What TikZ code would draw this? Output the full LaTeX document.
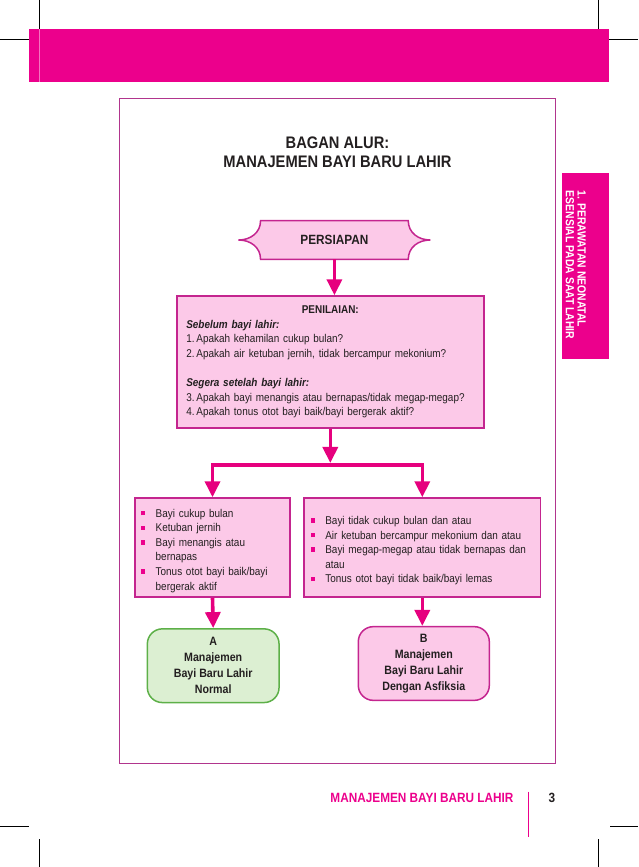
\documentclass[tikz,border=0pt]{standalone}
\usepackage{fontspec}
\setmainfont{Liberation Sans}[FakeStretch=0.88]
\usepackage{xcolor}
\usetikzlibrary{arrows.meta,backgrounds}

\definecolor{magband}{HTML}{EC008C}
\definecolor{arrowcol}{HTML}{E6007E}
\definecolor{boxline}{HTML}{C4258F}
\definecolor{frameline}{HTML}{B1358D}
\definecolor{pinkfill}{HTML}{FCC9E8}
\definecolor{greenfill}{HTML}{DCEFD2}
\definecolor{greenline}{HTML}{5DB048}
\definecolor{textcol}{HTML}{231F20}

\newcommand\bulletitem[1]{\par\noindent
  \makebox[14.7pt][l]{\textcolor{magband}{\rule[1.8pt]{4.4pt}{4.4pt}}}#1}
\newcommand\bulletcont[1]{\par\noindent\hspace*{14.7pt}#1}

\begin{document}
\begin{tikzpicture}[x=1pt,y=-1pt,
  bodytext/.style={font=\fontsize{11.3}{14.6}\selectfont,text=textcol},
  infobox/.style={bodytext,draw=boxline,fill=pinkfill,line width=1.5pt,
    align=left,inner ysep=0pt},
  endbox/.style={draw=boxline,fill=pinkfill,line width=1.5pt,rounded corners=15pt,
    minimum width=131pt,minimum height=73.7pt,align=center,text=textcol,
    font=\fontsize{12.1}{16}\selectfont\bfseries},
  flowarrow/.style={draw=arrowcol,line width=3.6pt,line join=miter,
    -{Triangle[width=15pt,length=16pt]}},
  cropmark/.style={draw=black,line width=0.8pt}]
  \useasboundingbox (0,0) rectangle (638,867);
  % crop marks and header band
  \draw[cropmark] (39.3,0) -- (39.3,29) (0,39) -- (29,39);
  \draw[cropmark] (598.3,0) -- (598.3,29) (609,39) -- (638,39);
  \draw[cropmark] (0,826.7) -- (28.5,826.7) (39.3,839) -- (39.3,867);
  \draw[cropmark] (610,826.7) -- (638,826.7) (598.3,839) -- (598.3,867);
  \fill[magband] (29,29) rectangle (609,82);
  \draw[magband!55!white,line width=0.6pt] (39.3,29) -- (39.3,82);
  % frame and side tab
  \draw[frameline,line width=1pt] (119.3,98.3) rectangle (555,763);
  \fill[magband] (561.7,172.7) rectangle (609,359);
  \node (tabtext) [rotate=-90,anchor=north west,inner sep=0pt,align=left,text=white,
    font=\fontsize{11.8}{11.7}\selectfont\bfseries] at (586,190.7)
    {1. PERAWATAN NEONATAL\\ESENSIAL PADA SAAT LAHIR};
  \node (judul) [align=center,text=textcol,font=\fontsize{16.7}{19}\selectfont\bfseries]
    at (337.5,152.5) {BAGAN ALUR:\\MANAJEMEN BAYI BARU LAHIR};

  \node (persiapan) [minimum width=147.3pt,minimum height=38.3pt,text=textcol,
    font=\fontsize{13.4}{16}\selectfont\bfseries] at (334.4,240) {PERSIAPAN};
  \begin{scope}[on background layer]
  \draw[draw=boxline,fill=pinkfill,line width=1.5pt]
    (persiapan.north west) -- (persiapan.north east)
    .. controls +(0,12) and +(-12,0) .. ([xshift=22pt]persiapan.east)
    .. controls +(-12,0) and +(0,-12) .. (persiapan.south east)
    -- (persiapan.south west)
    .. controls +(0,-12) and +(12,0) .. ([xshift=-22pt]persiapan.west)
    .. controls +(12,0) and +(0,12) .. cycle;
  \end{scope}

  \node (penilaian) [infobox,minimum width=307pt,minimum height=132pt,
    text width=288pt,inner xsep=9.5pt] at (330.3,362)
  {\makebox[\linewidth]{\textbf{PENILAIAN:}}\\
   \textbf{\textit{Sebelum bayi lahir:}}\\
   1.\,Apakah kehamilan cukup bulan?\\
   2.\,Apakah air ketuban jernih, tidak bercampur mekonium?\\[14.6pt]
   \textbf{\textit{Segera setelah bayi lahir:}}\\
   3.\,Apakah bayi menangis atau bernapas/tidak megap-megap?\\
   4.\,Apakah tonus otot bayi baik/bayi bergerak aktif?};

  \node (cirinormal) [infobox,minimum width=155pt,minimum height=99pt,
    text width=143pt,inner xsep=6pt] at (212.5,547.5)
  {\bulletitem{Bayi cukup bulan}
   \bulletitem{Ketuban jernih}
   \bulletitem{Bayi menangis atau}
   \bulletcont{bernapas}
   \bulletitem{Tonus otot bayi baik/bayi}
   \bulletcont{bergerak aktif}};
  \node (ciriasfiksia) [infobox,minimum width=236.7pt,minimum height=99pt,
    text width=223.3pt,inner xsep=6.7pt] at (422.3,547.5)
  {\bulletitem{Bayi tidak cukup bulan dan atau}
   \bulletitem{Air ketuban bercampur mekonium dan atau}
   \bulletitem{Bayi megap-megap atau tidak bernapas dan}
   \bulletcont{atau}
   \bulletitem{Tonus otot bayi tidak baik/bayi lemas}};

  \node (bblnormal) [endbox,draw=greenline,fill=greenfill,minimum width=131.7pt]
    at (213.2,665.7) {A\\Manajemen\\Bayi Baru Lahir\\Normal};
  \node (bblasfiksia) [endbox] at (423.8,663.5)
    {B\\Manajemen\\Bayi Baru Lahir\\Dengan Asfiksia};

  \coordinate (fork) at ([yshift=-36pt]penilaian.south);
  \draw[flowarrow] (persiapan.south) -- (persiapan.south |- penilaian.north);
  \draw[flowarrow,shorten >=1.8pt] (penilaian.south) -- (fork);
  \draw[flowarrow] (fork) -| (cirinormal.north);
  \draw[flowarrow] (fork) -| (ciriasfiksia.north);
  \draw[flowarrow] (cirinormal.south) -- (bblnormal.north);
  \draw[flowarrow] (ciriasfiksia.south) -- (ciriasfiksia.south |- bblasfiksia.north);

  % footer
  \node (footer) [anchor=east,text=magband,font=\fontsize{13.4}{16}\selectfont\bfseries]
    at (517,798) {MANAJEMEN BAYI BARU LAHIR};
  \draw[magband,line width=1.5pt] (528.7,791.7) -- (528.7,837);
  \node (halaman) [text=textcol,font=\fontsize{13.4}{16}\selectfont\bfseries]
    at (552,798) {3};
\end{tikzpicture}
\end{document}
